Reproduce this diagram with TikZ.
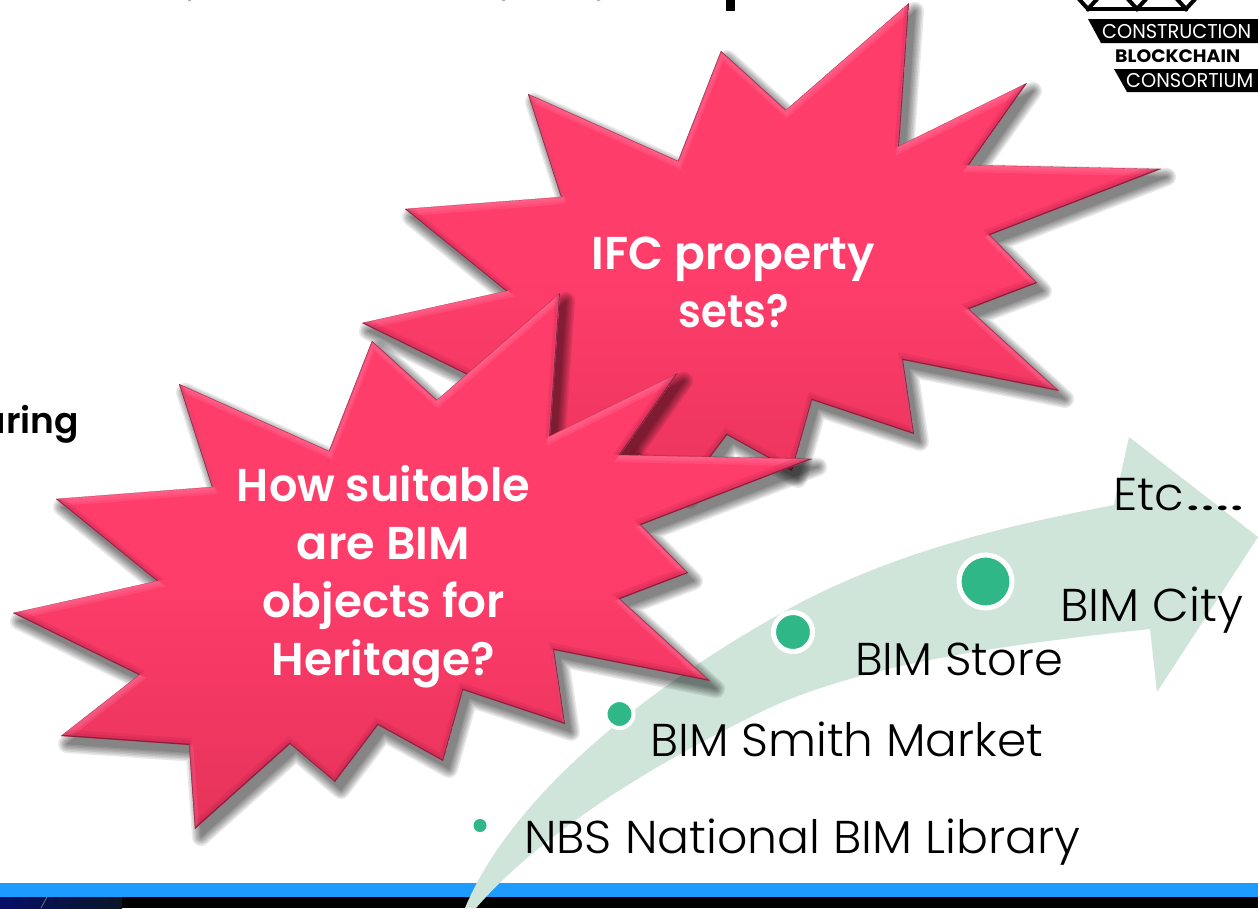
\documentclass[tikz,border=0pt]{standalone}
\usepackage{fontspec}
\usepackage{graphicx}
\setmainfont{Poppins}[UprightFont=* Light,BoldFont=* SemiBold]
\newfontfamily\logofont{Poppins}
\definecolor{blast}{HTML}{FF3D6B}
\definecolor{blastlow}{HTML}{E6335A}
\definecolor{blastlit}{HTML}{FF85A8}
\definecolor{blastdim}{HTML}{A81C44}
\definecolor{blastedge}{HTML}{5A1A2C}
\definecolor{barblue}{HTML}{1E9BFF}
\definecolor{arrowgreen}{HTML}{CFE5DA}
\definecolor{dotgreen}{HTML}{2FB787}
\definecolor{navy}{HTML}{0A1626}
\newcommand\fitw[2]{\resizebox{#1pt}{\height}{#2}}
\newcommand\burstpath{(560,293) -- (550,436) -- (678,373) -- (620,455) -- (812,459) -- (641,525) -- (688,573) -- (620,599) -- (710,681) -- (554,650) -- (565,724) -- (463,690) -- (443,761) -- (378,725) -- (335,782) -- (290,744) -- (195,829) -- (189,745) -- (61,736) -- (139,675) -- (13,613) -- (157,581) -- (56,499) -- (212,487) -- (179,384) -- (329,451) -- (372,341) -- (437,400) -- cycle}
\newcommand\burst[2]{%
  \begin{scope}[shift={(#1,#2)}]
    \begin{scope}[shift={(6,8)}]
      \foreach \w in {18,15,12,9,6,3,0.5}{%
        \begin{scope}[transparency group,opacity=.085]
          \filldraw[black,line join=round,line width=\w pt] \burstpath;
        \end{scope}}
    \end{scope}
    \shade[top color=blast,bottom color=blastlow,middle color=blast] \burstpath;
    \begin{scope}
      \clip \burstpath;
      \begin{scope}[shift={(.8,3.6)},miter limit=10]\draw[blastlit,draw opacity=.2,line width=7.2pt] \burstpath;\end{scope}
      \begin{scope}[shift={(.5,2.4)},miter limit=10]\draw[blastlit,draw opacity=.2,line width=4.8pt] \burstpath;\end{scope}
      \begin{scope}[shift={(.3,1.2)},miter limit=10]\draw[blastlit,draw opacity=.15,line width=2.4pt] \burstpath;\end{scope}
      \begin{scope}[shift={(-.8,-3.4)},miter limit=10]\draw[blastdim,draw opacity=.16,line width=6.8pt] \burstpath;\end{scope}
      \begin{scope}[shift={(-.5,-2)},miter limit=10]\draw[blastdim,draw opacity=.18,line width=4pt] \burstpath;\end{scope}
      \begin{scope}[shift={(-.2,-.6)}]\draw[blastedge,draw opacity=.65,line width=1.3pt] \burstpath;\end{scope}
    \end{scope}
  \end{scope}}
\tikzset{
  stage/.style={inner sep=0pt,anchor=base west,text=black,font=\fontsize{46}{55}\selectfont},
  burstlabel/.style={inner sep=0pt,align=center,text=white,font=\fontsize{46}{58}\selectfont\bfseries},
  dot/.style={circle,inner sep=0pt,fill=dotgreen,draw=white},
  logotext/.style={inner sep=0pt,anchor=base west,font=\logofont\fontsize{20}{24}\selectfont}
}
\begin{document}
\begin{tikzpicture}[x=1pt,y=-1pt]
\useasboundingbox (0,0) rectangle (1258,908);
\fill[white] (0,0) rectangle (1258,908);
% footer
\fill[barblue] (0,883) rectangle (1258,897);
\fill[black] (0,897) rectangle (1258,908);
\shade[left color=navy!70!blue,right color=navy] (0,897) rectangle (122,908);
\draw[gray,line width=.7pt] (47,897) -- (41,908);
% title fragments
\fill[black] (726,0) rectangle (735,11);
\fill[gray!60] (188,0) rectangle (191,1) (502,0) rectangle (505,1) (597,0) rectangle (600,1);
% logo
\draw[black,line width=4pt] (1078,-2) -- (1088,9) -- (1098,-2);
\draw[black,line width=4pt] (1127,-2) -- (1137,9) -- (1147,-2);
\draw[black,line width=4pt] (1176,-2) -- (1186,9) -- (1196,-2);
\draw[black,line width=4pt] (1086,9) -- (1188,9);
\fill[black] (1088,19) -- (1258,19) -- (1258,43) -- (1101,43) -- cycle;
\fill[black] (1114,69) -- (1258,69) -- (1258,92) -- (1127,92) -- cycle;
\node[logotext,text=white] (l1) at (1102,38) {\fitw{149}{CONSTRUCTION}};
\node[logotext,text=black,font=\logofont\fontsize{18}{22}\selectfont\bfseries] (l2) at (1115,62) {\fitw{125}{BLOCKCHAIN}};
\node[logotext,text=white] (l3) at (1126,87) {\fitw{127}{CONSORTIUM}};
% cut-off text
\node[inner sep=0pt,anchor=base east,font=\fontsize{36}{40}\selectfont\bfseries] (cut) at (79,433) {aring};
% arrow
\fill[arrowgreen] (465,908) .. controls (510,800) and (640,690) .. (796,605)
  .. controls (900,550) and (1010,525) .. (1114,505) -- (1129,437) -- (1258,537) -- (1157,692) -- (1150,629)
  .. controls (1000,645) and (860,665) .. (765,710) .. controls (640,770) and (535,840) .. (476,908) -- cycle;
% bursts
\burst{349}{-290}
\burst{0}{0}
\node[burstlabel] (ifc) at (733.5,282) {\fitw{283}{IFC property}\\\fitw{110}{sets?}};
\node[burstlabel] (how) at (383.5,577) {\fitw{293}{How suitable}\\\fitw{173}{are BIM}\\\fitw{243}{objects for}\\\fitw{223}{Heritage?}};
% dots
\node[dot,minimum size=53pt,line width=5pt] (d4) at (985.5,581.5) {};
\node[dot,minimum size=39pt,line width=5pt] (d3) at (793,632) {};
\node[dot,minimum size=28pt,line width=4pt] (d2) at (619.5,714) {};
\node[circle,inner sep=0pt,fill=dotgreen,minimum size=13pt] (d1) at (480,825.5) {};
% stage labels
\node[stage] (etc) at (1113,510) {\fitw{71}{Etc}\hspace{1pt}\fitw{60}{….}};
\node[stage] (city) at (1060,621) {\fitw{183}{BIM City}};
\node[stage] (store) at (855,675) {\fitw{208}{BIM Store}};
\node[stage] (smith) at (650,756) {\fitw{393}{BIM Smith Market}};
\node[stage] (nbs) at (524,853) {\fitw{556}{NBS National BIM Library}};
\end{tikzpicture}
\end{document}
